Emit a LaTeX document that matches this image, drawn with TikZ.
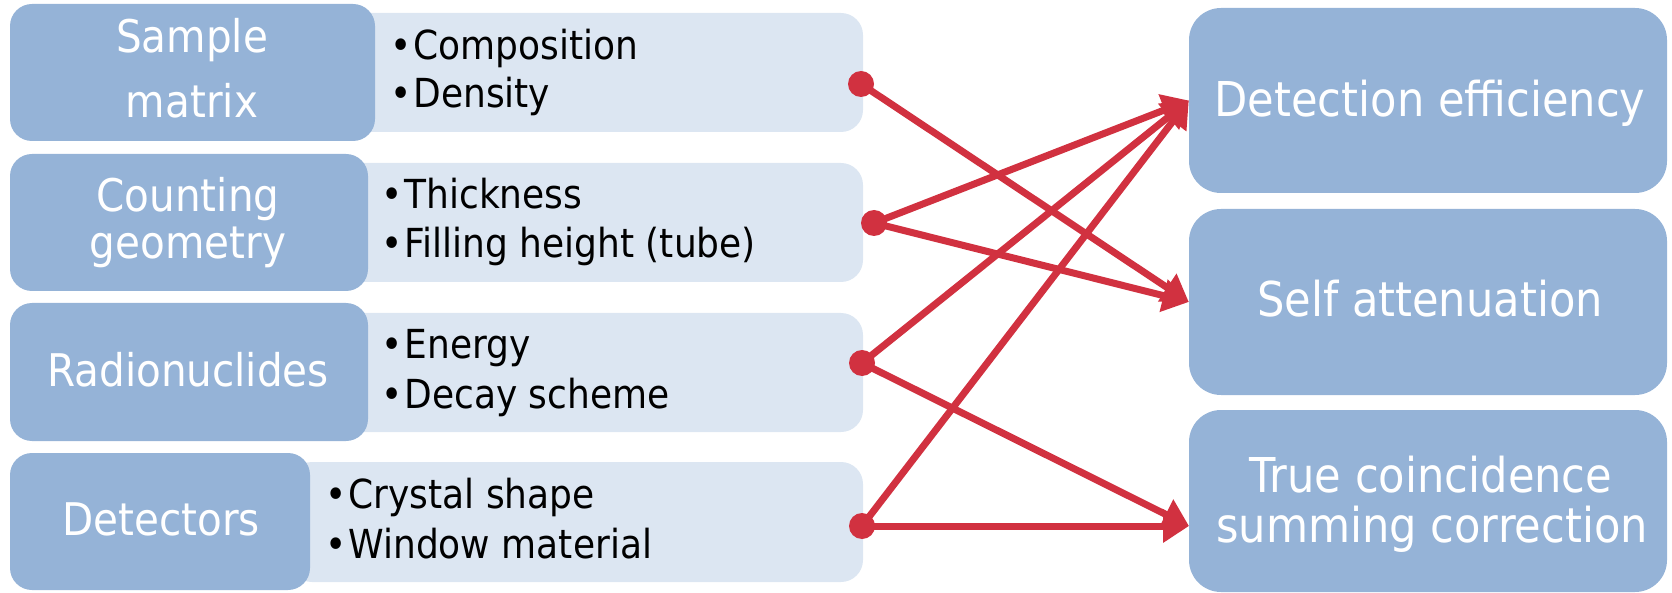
\documentclass[tikz,border=0pt]{standalone}
\usepackage{fontspec}
\setmainfont{DejaVu Sans}[FakeStretch=0.9]
\usetikzlibrary{arrows.meta}
\definecolor{boxdark}{HTML}{95B3D7}
\definecolor{boxlight}{HTML}{DCE6F2}
\definecolor{linkred}{HTML}{D13140}

\begin{document}
\begin{tikzpicture}[x=1pt,y=-1pt,
  darkbox/.style={draw=none, fill=boxdark, rounded corners=22pt, inner sep=0pt},
  lightbox/.style={draw=none, fill=boxlight, rounded corners=22pt, inner sep=0pt},
  resultbox/.style={draw=none, fill=boxdark, rounded corners=32pt, inner sep=0pt,
    minimum width=478pt},
  headtext/.style={text=white, inner sep=0pt, anchor=base,
    font=\fontsize{45}{54}\selectfont},
  itemtext/.style={text=black, inner sep=0pt, anchor=base west,
    font=\fontsize{40}{48}\selectfont},
  resulttext/.style={text=white, inner sep=0pt, anchor=base,
    font=\fontsize{48}{58}\selectfont},
  dot/.style={circle, fill=linkred, inner sep=0pt, minimum size=26pt},
  link/.style={draw=linkred, line width=7pt,
    -{Triangle[length=26pt, width=32pt]}}]

\useasboundingbox (0,0) rectangle (1672,593);

% item panels (behind the category boxes)
\node[lightbox, minimum width=523pt, minimum height=119pt] (l1) at (601.5,72.5) {};
\node[lightbox, minimum width=523pt, minimum height=119pt] (l2) at (601.5,222.5) {};
\node[lightbox, minimum width=523pt, minimum height=119pt] (l3) at (601.5,372.5) {};
\node[lightbox, minimum width=573pt, minimum height=120pt] (l4) at (576.5,522) {};

% category boxes
\node[darkbox, minimum width=365pt, minimum height=137pt] (c1) at (192.5,72.5) {};
\node[darkbox, minimum width=358pt, minimum height=137pt] (c2) at (189,222.5) {};
\node[darkbox, minimum width=358pt, minimum height=138pt] (c3) at (189,372) {};
\node[darkbox, minimum width=300pt, minimum height=137pt] (c4) at (160,521.5) {};

% result boxes
\node[resultbox, minimum height=185pt] (r1) at (1428,100.5) {};
\node[resultbox, minimum height=186pt] (r2) at (1428,302) {};
\node[resultbox, minimum height=182pt] (r3) at (1428,501) {};

% category labels
\node[headtext] (c1a) at (192,53) {Sample};
\node[headtext] (c1b) at (192,118) {matrix};
\node[headtext] (c2a) at (188,212) {Counting};
\node[headtext] (c2b) at (188,259) {geometry};
\node[headtext] (c3a) at (188,386) {Radionuclides};
\node[headtext] (c4a) at (161,535) {Detectors};

% item lists
\node[itemtext] (i1a) at (390,60) {•\hspace{2pt}Composition};
\node[itemtext] (i1b) at (390,108) {•\hspace{2pt}Density};
\node[itemtext] (i2a) at (381,209) {•\hspace{2pt}Thickness};
\node[itemtext] (i2b) at (381,258) {•\hspace{2pt}Filling height (tube)};
\node[itemtext] (i3a) at (381,359) {•\hspace{2pt}Energy};
\node[itemtext] (i3b) at (381,408) {•\hspace{2pt}Decay scheme};
\node[itemtext] (i4a) at (325,508) {•\hspace{2pt}Crystal shape};
\node[itemtext] (i4b) at (325,558) {•\hspace{2pt}Window material};

% result labels
\node[resulttext] (r1a) at (1430,117) {Detection efficiency};
\node[resulttext] (r2a) at (1430,317) {Self attenuation};
\node[resulttext] (r3a) at (1431,492) {True coincidence};
\node[resulttext] (r3b) at (1432,542) {summing correction};

% connector end points
\coordinate (t1) at (r1.west);
\coordinate (t2) at (r2.west);
\coordinate (t3) at (1189,526);

% connectors
\draw[link] (861,84) coordinate (p1) -- (t2);
\draw[link] (874,223) coordinate (p2) -- (t1);
\draw[link] (p2) -- (t2);
\draw[link] (862,363) coordinate (p3) -- (t1);
\draw[link] (p3) -- (t3);
\draw[link] (862,526) coordinate (p4) -- (t1);
\draw[link] (p4) -- (t3);

% start dots
\node[dot] (d1) at (p1) {};
\node[dot] (d2) at (p2) {};
\node[dot] (d3) at (p3) {};
\node[dot] (d4) at (p4) {};
\end{tikzpicture}
\end{document}
